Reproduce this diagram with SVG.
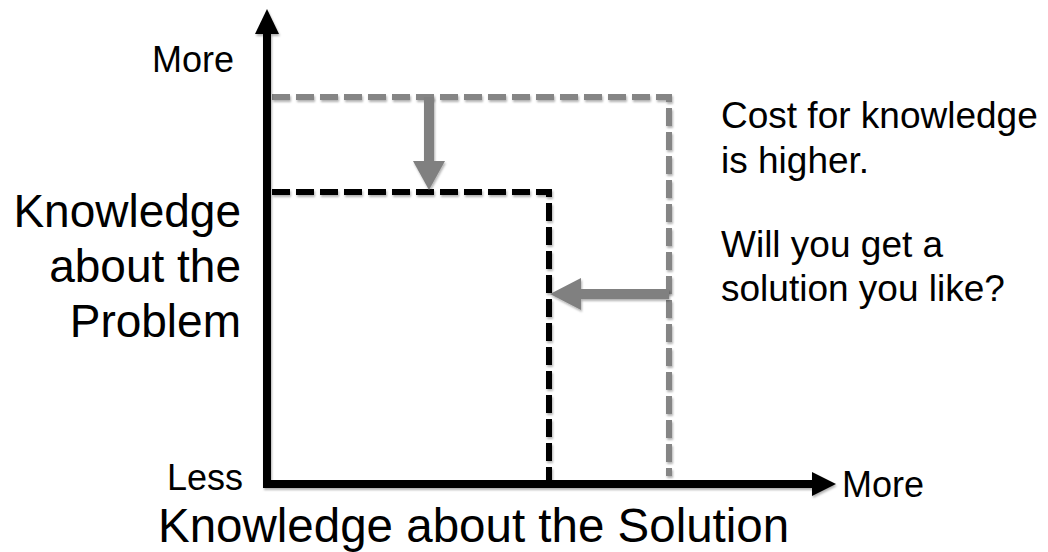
<svg xmlns="http://www.w3.org/2000/svg" width="1048" height="552" viewBox="0 0 1048 552">
<style>
.t{font-family:"Liberation Sans",Arial,sans-serif;fill:#000}
.big{font-size:46px}
.bot{font-size:47.5px}
.mid{font-size:36px}
.rt{font-size:37px}
.gd{fill:none;stroke:#858585;stroke-width:6;stroke-dasharray:18 6}
.bd{fill:none;stroke:#000;stroke-width:6;stroke-dasharray:18 6}
.ga{fill:#808080}
</style>
<defs>
<filter id="sh" x="-10%" y="-10%" width="120%" height="120%">
<feDropShadow dx="1" dy="2" stdDeviation="1.2" flood-color="#000" flood-opacity="0.3"/>
</filter>
</defs>
<g id="boxes" filter="url(#sh)">
<path id="outer-box" class="gd" d="M272,97 H669 V476"/>
<path id="inner-box" class="bd" d="M272,192 H549 V480"/>
</g>
<g id="connectors" filter="url(#sh)">
<g id="arrow-down">
<rect class="ga" x="424" y="97" width="10" height="65"/>
<polygon class="ga" points="413,161 445,161 429,190"/>
</g>
<g id="arrow-left">
<rect class="ga" x="580" y="289" width="89" height="10"/>
<polygon class="ga" points="581,278 581,310 550,294"/>
</g>
</g>
<g id="axes" filter="url(#sh)">
<path d="M267,33 V484 H814" fill="none" stroke="#000" stroke-width="8" stroke-linejoin="miter"/>
<polygon points="267,9 255,34 279,34" fill="#000"/>
<polygon points="836,484 812,472 812,496" fill="#000"/>
</g>
<g id="labels">
<text class="t mid" x="152" y="72">More</text>
<text class="t mid" x="243" y="490" text-anchor="end">Less</text>
<text class="t mid" x="842" y="497">More</text>
<text class="t bot" x="158" y="542">Knowledge about the Solution</text>
<text class="t big" text-anchor="end"><tspan x="241" y="227">Knowledge</tspan><tspan x="241" y="282">about the</tspan><tspan x="241" y="337">Problem</tspan></text>
<text class="t rt"><tspan x="721" y="128">Cost for knowledge</tspan><tspan x="721" y="173">is higher.</tspan><tspan x="721" y="257">Will you get a</tspan><tspan x="721" y="301">solution you like?</tspan></text>
</g>
</svg>
